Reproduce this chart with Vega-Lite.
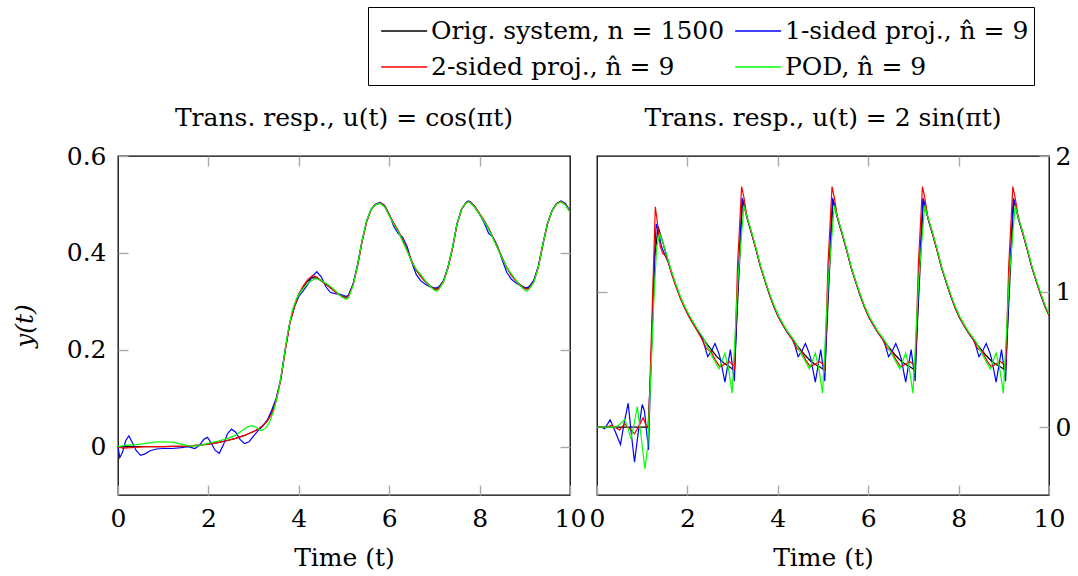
{
"$schema": "https://vega.github.io/schema/vega-lite/v6.json",
"background": "white",
"padding": {"left": 11, "top": 6, "right": 5, "bottom": 3},
"bounds": "flush",
"spacing": 27,
"config": {
  "font": "DejaVu Serif",
  "view": {"stroke": "black", "strokeWidth": 1.3},
  "axis": {"grid": false, "domain": false, "labelFlush": false, "labelOverlap": false, "tickColor": "#a8a8a8", "tickWidth": 1.4, "tickSize": -10, "labelFont": "DejaVu Serif", "labelFontSize": 25, "labelColor": "black", "labelPadding": 21, "titleFont": "DejaVu Serif", "titleFontSize": 25, "titleFontWeight": "normal", "titleColor": "black"},
  "title": {"font": "DejaVu Serif", "fontSize": 25, "fontWeight": "normal", "color": "black", "offset": 13, "anchor": "middle"},
  "legend": {"labelFont": "DejaVu Serif", "labelFontSize": 25, "labelColor": "black", "labelLimit": 600, "strokeColor": "black", "fillColor": "white", "padding": 5, "rowPadding": 4, "columnPadding": 2, "labelOffset": 20, "symbolType": "M-0.6,0H1.95", "symbolSize": 1296, "symbolStrokeWidth": 1.3}
},
"datasets": {
"L": [
{"s":"o","t":0,"y":0},{"s":"o","t":0.5,"y":0},{"s":"o","t":1,"y":0},{"s":"o","t":1.5,"y":0.001},{"s":"o","t":1.8,"y":0.003},{"s":"o","t":2,"y":0.005},{"s":"o","t":2.2,"y":0.008},{"s":"o","t":2.4,"y":0.012},{"s":"o","t":2.6,"y":0.017},{"s":"o","t":2.8,"y":0.023},{"s":"o","t":3,"y":0.031},{"s":"o","t":3.1,"y":0.036},{"s":"o","t":3.2,"y":0.043},{"s":"o","t":3.3,"y":0.053},{"s":"o","t":3.4,"y":0.07},{"s":"o","t":3.5,"y":0.097},{"s":"o","t":3.6,"y":0.14},{"s":"o","t":3.7,"y":0.2},{"s":"o","t":3.8,"y":0.255},{"s":"o","t":3.9,"y":0.288},{"s":"o","t":4,"y":0.315},{"s":"o","t":4.1,"y":0.33},{"s":"o","t":4.2,"y":0.342},{"s":"o","t":4.3,"y":0.349},{"s":"o","t":4.4,"y":0.348},{"s":"o","t":4.5,"y":0.342},{"s":"o","t":4.6,"y":0.335},{"s":"o","t":4.7,"y":0.328},{"s":"o","t":4.8,"y":0.32},{"s":"o","t":4.9,"y":0.313},{"s":"o","t":5,"y":0.309},{"s":"o","t":5.05,"y":0.308},{"s":"o","t":5.1,"y":0.312},{"s":"o","t":5.2,"y":0.335},{"s":"o","t":5.3,"y":0.375},{"s":"o","t":5.4,"y":0.425},{"s":"o","t":5.5,"y":0.465},{"s":"o","t":5.6,"y":0.49},{"s":"o","t":5.7,"y":0.5},{"s":"o","t":5.8,"y":0.503},{"s":"o","t":5.9,"y":0.496},{"s":"o","t":6,"y":0.478},{"s":"o","t":6.1,"y":0.46},{"s":"o","t":6.2,"y":0.445},{"s":"o","t":6.3,"y":0.425},{"s":"o","t":6.4,"y":0.405},{"s":"o","t":6.5,"y":0.382},{"s":"o","t":6.6,"y":0.364},{"s":"o","t":6.7,"y":0.352},{"s":"o","t":6.8,"y":0.341},{"s":"o","t":6.9,"y":0.332},{"s":"o","t":7,"y":0.326},{"s":"o","t":7.05,"y":0.325},{"s":"o","t":7.1,"y":0.328},{"s":"o","t":7.2,"y":0.342},{"s":"o","t":7.3,"y":0.37},{"s":"o","t":7.4,"y":0.41},{"s":"o","t":7.5,"y":0.46},{"s":"o","t":7.6,"y":0.49},{"s":"o","t":7.7,"y":0.503},{"s":"o","t":7.75,"y":0.506},{"s":"o","t":7.8,"y":0.504},{"s":"o","t":7.9,"y":0.494},{"s":"o","t":8,"y":0.48},{"s":"o","t":8.1,"y":0.466},{"s":"o","t":8.2,"y":0.45},{"s":"o","t":8.3,"y":0.43},{"s":"o","t":8.4,"y":0.41},{"s":"o","t":8.5,"y":0.39},{"s":"o","t":8.6,"y":0.37},{"s":"o","t":8.7,"y":0.355},{"s":"o","t":8.8,"y":0.343},{"s":"o","t":8.9,"y":0.334},{"s":"o","t":9,"y":0.327},{"s":"o","t":9.05,"y":0.326},{"s":"o","t":9.1,"y":0.329},{"s":"o","t":9.2,"y":0.342},{"s":"o","t":9.3,"y":0.372},{"s":"o","t":9.4,"y":0.418},{"s":"o","t":9.5,"y":0.46},{"s":"o","t":9.6,"y":0.486},{"s":"o","t":9.7,"y":0.501},{"s":"o","t":9.8,"y":0.506},{"s":"o","t":9.9,"y":0.5},{"s":"o","t":10,"y":0.485},

{"s":"b","t":0,"y":0},{"s":"b","t":0.04,"y":-0.023},{"s":"b","t":0.1,"y":-0.012},{"s":"b","t":0.17,"y":0.012},{"s":"b","t":0.24,"y":0.022},{"s":"b","t":0.32,"y":0.008},{"s":"b","t":0.4,"y":-0.008},{"s":"b","t":0.5,"y":-0.018},{"s":"b","t":0.6,"y":-0.015},{"s":"b","t":0.7,"y":-0.009},{"s":"b","t":0.85,"y":-0.005},{"s":"b","t":1,"y":-0.004},{"s":"b","t":1.2,"y":-0.004},{"s":"b","t":1.4,"y":-0.002},{"s":"b","t":1.55,"y":0},{"s":"b","t":1.7,"y":-0.004},{"s":"b","t":1.8,"y":0.002},{"s":"b","t":1.9,"y":0.015},{"s":"b","t":1.98,"y":0.019},{"s":"b","t":2.06,"y":0.008},{"s":"b","t":2.15,"y":-0.008},{"s":"b","t":2.24,"y":-0.014},{"s":"b","t":2.33,"y":0.003},{"s":"b","t":2.42,"y":0.026},{"s":"b","t":2.51,"y":0.036},{"s":"b","t":2.6,"y":0.03},{"s":"b","t":2.7,"y":0.015},{"s":"b","t":2.8,"y":0.006},{"s":"b","t":2.9,"y":0.01},{"s":"b","t":3,"y":0.022},{"s":"b","t":3.1,"y":0.033},{"s":"b","t":3.2,"y":0.042},{"s":"b","t":3.3,"y":0.054},{"s":"b","t":3.4,"y":0.075},{"s":"b","t":3.5,"y":0.1},{"s":"b","t":3.6,"y":0.138},{"s":"b","t":3.7,"y":0.2},{"s":"b","t":3.8,"y":0.255},{"s":"b","t":3.9,"y":0.288},{"s":"b","t":4,"y":0.31},{"s":"b","t":4.1,"y":0.322},{"s":"b","t":4.2,"y":0.335},{"s":"b","t":4.3,"y":0.352},{"s":"b","t":4.4,"y":0.361},{"s":"b","t":4.5,"y":0.35},{"s":"b","t":4.6,"y":0.33},{"s":"b","t":4.7,"y":0.318},{"s":"b","t":4.8,"y":0.316},{"s":"b","t":4.9,"y":0.315},{"s":"b","t":5,"y":0.312},{"s":"b","t":5.05,"y":0.31},{"s":"b","t":5.1,"y":0.313},{"s":"b","t":5.2,"y":0.335},{"s":"b","t":5.3,"y":0.375},{"s":"b","t":5.4,"y":0.425},{"s":"b","t":5.5,"y":0.465},{"s":"b","t":5.6,"y":0.49},{"s":"b","t":5.7,"y":0.501},{"s":"b","t":5.8,"y":0.504},{"s":"b","t":5.9,"y":0.498},{"s":"b","t":6,"y":0.48},{"s":"b","t":6.1,"y":0.455},{"s":"b","t":6.2,"y":0.44},{"s":"b","t":6.3,"y":0.432},{"s":"b","t":6.4,"y":0.412},{"s":"b","t":6.5,"y":0.38},{"s":"b","t":6.6,"y":0.355},{"s":"b","t":6.7,"y":0.342},{"s":"b","t":6.8,"y":0.335},{"s":"b","t":6.9,"y":0.33},{"s":"b","t":7,"y":0.328},{"s":"b","t":7.05,"y":0.328},{"s":"b","t":7.1,"y":0.33},{"s":"b","t":7.2,"y":0.342},{"s":"b","t":7.3,"y":0.37},{"s":"b","t":7.4,"y":0.41},{"s":"b","t":7.5,"y":0.46},{"s":"b","t":7.6,"y":0.49},{"s":"b","t":7.7,"y":0.504},{"s":"b","t":7.75,"y":0.507},{"s":"b","t":7.8,"y":0.505},{"s":"b","t":7.9,"y":0.495},{"s":"b","t":8,"y":0.48},{"s":"b","t":8.1,"y":0.462},{"s":"b","t":8.2,"y":0.44},{"s":"b","t":8.3,"y":0.432},{"s":"b","t":8.4,"y":0.413},{"s":"b","t":8.5,"y":0.385},{"s":"b","t":8.6,"y":0.36},{"s":"b","t":8.7,"y":0.346},{"s":"b","t":8.8,"y":0.338},{"s":"b","t":8.9,"y":0.332},{"s":"b","t":9,"y":0.329},{"s":"b","t":9.05,"y":0.328},{"s":"b","t":9.1,"y":0.331},{"s":"b","t":9.2,"y":0.344},{"s":"b","t":9.3,"y":0.372},{"s":"b","t":9.4,"y":0.418},{"s":"b","t":9.5,"y":0.46},{"s":"b","t":9.6,"y":0.487},{"s":"b","t":9.7,"y":0.502},{"s":"b","t":9.8,"y":0.507},{"s":"b","t":9.9,"y":0.502},{"s":"b","t":10,"y":0.487},

{"s":"r","t":0,"y":0},{"s":"r","t":0.1,"y":-0.003},{"s":"r","t":0.3,"y":-0.002},{"s":"r","t":0.6,"y":0},{"s":"r","t":1,"y":0},{"s":"r","t":1.5,"y":0.001},{"s":"r","t":1.8,"y":0.003},{"s":"r","t":2,"y":0.005},{"s":"r","t":2.2,"y":0.008},{"s":"r","t":2.4,"y":0.012},{"s":"r","t":2.6,"y":0.017},{"s":"r","t":2.8,"y":0.023},{"s":"r","t":3,"y":0.031},{"s":"r","t":3.1,"y":0.036},{"s":"r","t":3.2,"y":0.043},{"s":"r","t":3.3,"y":0.052},{"s":"r","t":3.4,"y":0.068},{"s":"r","t":3.5,"y":0.094},{"s":"r","t":3.6,"y":0.137},{"s":"r","t":3.7,"y":0.197},{"s":"r","t":3.8,"y":0.253},{"s":"r","t":3.9,"y":0.288},{"s":"r","t":4,"y":0.315},{"s":"r","t":4.1,"y":0.332},{"s":"r","t":4.2,"y":0.345},{"s":"r","t":4.3,"y":0.353},{"s":"r","t":4.4,"y":0.35},{"s":"r","t":4.5,"y":0.343},{"s":"r","t":4.6,"y":0.335},{"s":"r","t":4.7,"y":0.328},{"s":"r","t":4.8,"y":0.32},{"s":"r","t":4.9,"y":0.313},{"s":"r","t":5,"y":0.308},{"s":"r","t":5.05,"y":0.307},{"s":"r","t":5.1,"y":0.311},{"s":"r","t":5.2,"y":0.333},{"s":"r","t":5.3,"y":0.372},{"s":"r","t":5.4,"y":0.422},{"s":"r","t":5.5,"y":0.463},{"s":"r","t":5.6,"y":0.489},{"s":"r","t":5.7,"y":0.5},{"s":"r","t":5.8,"y":0.503},{"s":"r","t":5.9,"y":0.497},{"s":"r","t":6,"y":0.479},{"s":"r","t":6.1,"y":0.462},{"s":"r","t":6.2,"y":0.446},{"s":"r","t":6.3,"y":0.426},{"s":"r","t":6.4,"y":0.405},{"s":"r","t":6.5,"y":0.383},{"s":"r","t":6.6,"y":0.364},{"s":"r","t":6.7,"y":0.351},{"s":"r","t":6.8,"y":0.34},{"s":"r","t":6.9,"y":0.331},{"s":"r","t":7,"y":0.325},{"s":"r","t":7.05,"y":0.324},{"s":"r","t":7.1,"y":0.327},{"s":"r","t":7.2,"y":0.34},{"s":"r","t":7.3,"y":0.368},{"s":"r","t":7.4,"y":0.408},{"s":"r","t":7.5,"y":0.458},{"s":"r","t":7.6,"y":0.489},{"s":"r","t":7.7,"y":0.503},{"s":"r","t":7.75,"y":0.506},{"s":"r","t":7.8,"y":0.504},{"s":"r","t":7.9,"y":0.495},{"s":"r","t":8,"y":0.481},{"s":"r","t":8.1,"y":0.467},{"s":"r","t":8.2,"y":0.451},{"s":"r","t":8.3,"y":0.431},{"s":"r","t":8.4,"y":0.411},{"s":"r","t":8.5,"y":0.39},{"s":"r","t":8.6,"y":0.37},{"s":"r","t":8.7,"y":0.354},{"s":"r","t":8.8,"y":0.342},{"s":"r","t":8.9,"y":0.333},{"s":"r","t":9,"y":0.326},{"s":"r","t":9.05,"y":0.325},{"s":"r","t":9.1,"y":0.328},{"s":"r","t":9.2,"y":0.34},{"s":"r","t":9.3,"y":0.37},{"s":"r","t":9.4,"y":0.416},{"s":"r","t":9.5,"y":0.459},{"s":"r","t":9.6,"y":0.486},{"s":"r","t":9.7,"y":0.501},{"s":"r","t":9.8,"y":0.506},{"s":"r","t":9.9,"y":0.5},{"s":"r","t":10,"y":0.485},

{"s":"g","t":0,"y":0},{"s":"g","t":0.2,"y":0.003},{"s":"g","t":0.4,"y":0.004},{"s":"g","t":0.6,"y":0.006},{"s":"g","t":0.8,"y":0.009},{"s":"g","t":1,"y":0.01},{"s":"g","t":1.2,"y":0.009},{"s":"g","t":1.4,"y":0.005},{"s":"g","t":1.6,"y":0.001},{"s":"g","t":1.8,"y":0.002},{"s":"g","t":2,"y":0.007},{"s":"g","t":2.2,"y":0.011},{"s":"g","t":2.4,"y":0.016},{"s":"g","t":2.6,"y":0.023},{"s":"g","t":2.75,"y":0.033},{"s":"g","t":2.87,"y":0.041},{"s":"g","t":2.97,"y":0.043},{"s":"g","t":3.07,"y":0.039},{"s":"g","t":3.17,"y":0.033},{"s":"g","t":3.27,"y":0.038},{"s":"g","t":3.35,"y":0.05},{"s":"g","t":3.45,"y":0.075},{"s":"g","t":3.55,"y":0.115},{"s":"g","t":3.65,"y":0.17},{"s":"g","t":3.75,"y":0.232},{"s":"g","t":3.85,"y":0.279},{"s":"g","t":3.95,"y":0.306},{"s":"g","t":4.05,"y":0.321},{"s":"g","t":4.15,"y":0.332},{"s":"g","t":4.25,"y":0.341},{"s":"g","t":4.35,"y":0.346},{"s":"g","t":4.45,"y":0.346},{"s":"g","t":4.55,"y":0.34},{"s":"g","t":4.65,"y":0.334},{"s":"g","t":4.75,"y":0.327},{"s":"g","t":4.85,"y":0.318},{"s":"g","t":4.95,"y":0.309},{"s":"g","t":5.05,"y":0.304},{"s":"g","t":5.1,"y":0.307},{"s":"g","t":5.2,"y":0.332},{"s":"g","t":5.3,"y":0.375},{"s":"g","t":5.4,"y":0.426},{"s":"g","t":5.5,"y":0.466},{"s":"g","t":5.6,"y":0.49},{"s":"g","t":5.7,"y":0.5},{"s":"g","t":5.8,"y":0.502},{"s":"g","t":5.9,"y":0.495},{"s":"g","t":6,"y":0.477},{"s":"g","t":6.1,"y":0.459},{"s":"g","t":6.2,"y":0.444},{"s":"g","t":6.3,"y":0.423},{"s":"g","t":6.4,"y":0.403},{"s":"g","t":6.5,"y":0.38},{"s":"g","t":6.6,"y":0.366},{"s":"g","t":6.7,"y":0.355},{"s":"g","t":6.8,"y":0.342},{"s":"g","t":6.9,"y":0.331},{"s":"g","t":7,"y":0.323},{"s":"g","t":7.05,"y":0.321},{"s":"g","t":7.1,"y":0.324},{"s":"g","t":7.2,"y":0.34},{"s":"g","t":7.3,"y":0.37},{"s":"g","t":7.4,"y":0.412},{"s":"g","t":7.5,"y":0.46},{"s":"g","t":7.6,"y":0.49},{"s":"g","t":7.7,"y":0.503},{"s":"g","t":7.75,"y":0.505},{"s":"g","t":7.8,"y":0.503},{"s":"g","t":7.9,"y":0.493},{"s":"g","t":8,"y":0.479},{"s":"g","t":8.1,"y":0.465},{"s":"g","t":8.2,"y":0.449},{"s":"g","t":8.3,"y":0.429},{"s":"g","t":8.4,"y":0.409},{"s":"g","t":8.5,"y":0.389},{"s":"g","t":8.6,"y":0.37},{"s":"g","t":8.7,"y":0.357},{"s":"g","t":8.8,"y":0.344},{"s":"g","t":8.9,"y":0.332},{"s":"g","t":9,"y":0.323},{"s":"g","t":9.05,"y":0.321},{"s":"g","t":9.1,"y":0.325},{"s":"g","t":9.2,"y":0.34},{"s":"g","t":9.3,"y":0.37},{"s":"g","t":9.4,"y":0.418},{"s":"g","t":9.5,"y":0.46},{"s":"g","t":9.6,"y":0.486},{"s":"g","t":9.7,"y":0.501},{"s":"g","t":9.8,"y":0.505},{"s":"g","t":9.9,"y":0.499},{"s":"g","t":10,"y":0.484}
],
"R": [
{"s":"o","t":0,"y":0},{"s":"o","t":1.13,"y":0},{"s":"o","t":1.2,"y":0.5},{"s":"o","t":1.28,"y":1.25},{"s":"o","t":1.35,"y":1.48},{"s":"o","t":1.45,"y":1.37},{"s":"o","t":1.55,"y":1.25},{"s":"o","t":1.65,"y":1.14},{"s":"o","t":1.75,"y":1.04},{"s":"o","t":1.85,"y":0.95},{"s":"o","t":1.95,"y":0.875},{"s":"o","t":2.05,"y":0.81},{"s":"o","t":2.2,"y":0.725},{"s":"o","t":2.35,"y":0.65},{"s":"o","t":2.5,"y":0.585},{"s":"o","t":2.65,"y":0.52},{"s":"o","t":2.8,"y":0.475},{"s":"o","t":2.95,"y":0.44},{"s":"o","t":3.04,"y":0.42},{"s":"o","t":3.13,"y":1.05},{"s":"o","t":3.22,"y":1.68},
{"s":"o","t":3.32,"y":1.54},{"s":"o","t":3.42,"y":1.43},{"s":"o","t":3.52,"y":1.31},{"s":"o","t":3.62,"y":1.18},{"s":"o","t":3.72,"y":1.075},{"s":"o","t":3.82,"y":0.975},{"s":"o","t":3.92,"y":0.885},{"s":"o","t":4.02,"y":0.81},{"s":"o","t":4.12,"y":0.75},{"s":"o","t":4.22,"y":0.695},{"s":"o","t":4.32,"y":0.65},{"s":"o","t":4.42,"y":0.605},{"s":"o","t":4.52,"y":0.565},{"s":"o","t":4.62,"y":0.525},{"s":"o","t":4.72,"y":0.49},{"s":"o","t":4.82,"y":0.465},{"s":"o","t":4.92,"y":0.445},{"s":"o","t":5.04,"y":0.42},{"s":"o","t":5.13,"y":1.05},{"s":"o","t":5.22,"y":1.68},
{"s":"o","t":5.32,"y":1.54},{"s":"o","t":5.42,"y":1.43},{"s":"o","t":5.52,"y":1.31},{"s":"o","t":5.62,"y":1.18},{"s":"o","t":5.72,"y":1.075},{"s":"o","t":5.82,"y":0.975},{"s":"o","t":5.92,"y":0.885},{"s":"o","t":6.02,"y":0.81},{"s":"o","t":6.12,"y":0.75},{"s":"o","t":6.22,"y":0.695},{"s":"o","t":6.32,"y":0.65},{"s":"o","t":6.42,"y":0.605},{"s":"o","t":6.52,"y":0.565},{"s":"o","t":6.62,"y":0.525},{"s":"o","t":6.72,"y":0.49},{"s":"o","t":6.82,"y":0.465},{"s":"o","t":6.92,"y":0.445},{"s":"o","t":7.04,"y":0.42},{"s":"o","t":7.13,"y":1.05},{"s":"o","t":7.22,"y":1.68},
{"s":"o","t":7.32,"y":1.54},{"s":"o","t":7.42,"y":1.43},{"s":"o","t":7.52,"y":1.31},{"s":"o","t":7.62,"y":1.18},{"s":"o","t":7.72,"y":1.075},{"s":"o","t":7.82,"y":0.975},{"s":"o","t":7.92,"y":0.885},{"s":"o","t":8.02,"y":0.81},{"s":"o","t":8.12,"y":0.75},{"s":"o","t":8.22,"y":0.695},{"s":"o","t":8.32,"y":0.65},{"s":"o","t":8.42,"y":0.605},{"s":"o","t":8.52,"y":0.565},{"s":"o","t":8.62,"y":0.525},{"s":"o","t":8.72,"y":0.49},{"s":"o","t":8.82,"y":0.465},{"s":"o","t":8.92,"y":0.445},{"s":"o","t":9.04,"y":0.42},{"s":"o","t":9.13,"y":1.05},{"s":"o","t":9.22,"y":1.68},
{"s":"o","t":9.32,"y":1.54},{"s":"o","t":9.42,"y":1.43},{"s":"o","t":9.52,"y":1.31},{"s":"o","t":9.62,"y":1.18},{"s":"o","t":9.72,"y":1.075},{"s":"o","t":9.82,"y":0.975},{"s":"o","t":9.92,"y":0.885},{"s":"o","t":10,"y":0.825},

{"s":"b","t":0,"y":0},{"s":"b","t":0.1,"y":0},{"s":"b","t":0.17,"y":-0.012},{"s":"b","t":0.29,"y":0.054},{"s":"b","t":0.4,"y":-0.03},{"s":"b","t":0.52,"y":-0.128},{"s":"b","t":0.6,"y":0.03},{"s":"b","t":0.69,"y":0.177},{"s":"b","t":0.76,"y":-0.05},{"s":"b","t":0.83,"y":-0.258},{"s":"b","t":0.92,"y":-0.02},{"s":"b","t":1,"y":0.167},{"s":"b","t":1.05,"y":0.12},{"s":"b","t":1.14,"y":-0.167},{"s":"b","t":1.2,"y":0.55},{"s":"b","t":1.27,"y":1.25},{"s":"b","t":1.31,"y":1.499},{"s":"b","t":1.36,"y":1.45},{"s":"b","t":1.42,"y":1.34},{"s":"b","t":1.5,"y":1.27},{"s":"b","t":1.57,"y":1.22},{"s":"b","t":1.65,"y":1.14},{"s":"b","t":1.75,"y":1.04},{"s":"b","t":1.85,"y":0.95},{"s":"b","t":1.95,"y":0.875},{"s":"b","t":2.05,"y":0.81},{"s":"b","t":2.2,"y":0.725},{"s":"b","t":2.32,"y":0.66},{"s":"b","t":2.38,"y":0.6},{"s":"b","t":2.45,"y":0.52},{"s":"b","t":2.53,"y":0.56},{"s":"b","t":2.61,"y":0.617},{"s":"b","t":2.69,"y":0.55},{"s":"b","t":2.73,"y":0.504},{"s":"b","t":2.83,"y":0.332},{"s":"b","t":2.95,"y":0.572},{"s":"b","t":3.04,"y":0.34},{"s":"b","t":3.12,"y":1.1},{"s":"b","t":3.21,"y":1.69},{"s":"b","t":3.27,"y":1.62},{"s":"b","t":3.34,"y":1.52},
{"s":"b","t":3.42,"y":1.43},{"s":"b","t":3.52,"y":1.31},{"s":"b","t":3.62,"y":1.18},{"s":"b","t":3.72,"y":1.075},{"s":"b","t":3.82,"y":0.975},{"s":"b","t":3.92,"y":0.885},{"s":"b","t":4.02,"y":0.81},{"s":"b","t":4.12,"y":0.75},{"s":"b","t":4.22,"y":0.695},{"s":"b","t":4.32,"y":0.65},{"s":"b","t":4.38,"y":0.6},{"s":"b","t":4.45,"y":0.52},{"s":"b","t":4.53,"y":0.56},{"s":"b","t":4.61,"y":0.617},{"s":"b","t":4.69,"y":0.55},{"s":"b","t":4.73,"y":0.504},{"s":"b","t":4.83,"y":0.332},{"s":"b","t":4.95,"y":0.572},{"s":"b","t":5.04,"y":0.34},{"s":"b","t":5.12,"y":1.1},{"s":"b","t":5.21,"y":1.69},{"s":"b","t":5.27,"y":1.62},{"s":"b","t":5.34,"y":1.52},
{"s":"b","t":5.42,"y":1.43},{"s":"b","t":5.52,"y":1.31},{"s":"b","t":5.62,"y":1.18},{"s":"b","t":5.72,"y":1.075},{"s":"b","t":5.82,"y":0.975},{"s":"b","t":5.92,"y":0.885},{"s":"b","t":6.02,"y":0.81},{"s":"b","t":6.12,"y":0.75},{"s":"b","t":6.22,"y":0.695},{"s":"b","t":6.32,"y":0.65},{"s":"b","t":6.38,"y":0.6},{"s":"b","t":6.45,"y":0.52},{"s":"b","t":6.53,"y":0.56},{"s":"b","t":6.61,"y":0.617},{"s":"b","t":6.69,"y":0.55},{"s":"b","t":6.73,"y":0.504},{"s":"b","t":6.83,"y":0.332},{"s":"b","t":6.95,"y":0.572},{"s":"b","t":7.04,"y":0.34},{"s":"b","t":7.12,"y":1.1},{"s":"b","t":7.21,"y":1.69},{"s":"b","t":7.27,"y":1.62},{"s":"b","t":7.34,"y":1.52},
{"s":"b","t":7.42,"y":1.43},{"s":"b","t":7.52,"y":1.31},{"s":"b","t":7.62,"y":1.18},{"s":"b","t":7.72,"y":1.075},{"s":"b","t":7.82,"y":0.975},{"s":"b","t":7.92,"y":0.885},{"s":"b","t":8.02,"y":0.81},{"s":"b","t":8.12,"y":0.75},{"s":"b","t":8.22,"y":0.695},{"s":"b","t":8.32,"y":0.65},{"s":"b","t":8.38,"y":0.6},{"s":"b","t":8.45,"y":0.52},{"s":"b","t":8.53,"y":0.56},{"s":"b","t":8.61,"y":0.617},{"s":"b","t":8.69,"y":0.55},{"s":"b","t":8.73,"y":0.504},{"s":"b","t":8.83,"y":0.332},{"s":"b","t":8.95,"y":0.572},{"s":"b","t":9.04,"y":0.34},{"s":"b","t":9.12,"y":1.1},{"s":"b","t":9.21,"y":1.69},{"s":"b","t":9.27,"y":1.62},{"s":"b","t":9.34,"y":1.52},
{"s":"b","t":9.42,"y":1.43},{"s":"b","t":9.52,"y":1.31},{"s":"b","t":9.62,"y":1.18},{"s":"b","t":9.72,"y":1.075},{"s":"b","t":9.82,"y":0.975},{"s":"b","t":9.92,"y":0.885},{"s":"b","t":10,"y":0.825},

{"s":"r","t":0,"y":0},{"s":"r","t":0.2,"y":0},{"s":"r","t":0.32,"y":0.013},{"s":"r","t":0.42,"y":-0.005},{"s":"r","t":0.5,"y":-0.02},{"s":"r","t":0.61,"y":0.025},{"s":"r","t":0.72,"y":-0.01},{"s":"r","t":0.83,"y":-0.049},{"s":"r","t":0.93,"y":0.01},{"s":"r","t":1.02,"y":0.069},{"s":"r","t":1.1,"y":0},{"s":"r","t":1.14,"y":-0.01},{"s":"r","t":1.21,"y":0.75},{"s":"r","t":1.29,"y":1.626},{"s":"r","t":1.34,"y":1.5},{"s":"r","t":1.4,"y":1.33},{"s":"r","t":1.46,"y":1.278},{"s":"r","t":1.52,"y":1.265},{"s":"r","t":1.57,"y":1.228},{"s":"r","t":1.65,"y":1.13},{"s":"r","t":1.75,"y":1.035},{"s":"r","t":1.85,"y":0.945},{"s":"r","t":1.95,"y":0.87},{"s":"r","t":2.05,"y":0.805},{"s":"r","t":2.2,"y":0.72},{"s":"r","t":2.32,"y":0.65},{"s":"r","t":2.42,"y":0.58},{"s":"r","t":2.52,"y":0.56},{"s":"r","t":2.62,"y":0.495},{"s":"r","t":2.72,"y":0.445},{"s":"r","t":2.82,"y":0.465},{"s":"r","t":2.92,"y":0.485},{"s":"r","t":3,"y":0.465},{"s":"r","t":3.04,"y":0.42},{"s":"r","t":3.11,"y":1.2},{"s":"r","t":3.2,"y":1.774},{"s":"r","t":3.25,"y":1.695},{"s":"r","t":3.32,"y":1.55},
{"s":"r","t":3.42,"y":1.43},{"s":"r","t":3.52,"y":1.31},{"s":"r","t":3.62,"y":1.18},{"s":"r","t":3.72,"y":1.075},{"s":"r","t":3.82,"y":0.975},{"s":"r","t":3.92,"y":0.885},{"s":"r","t":4.02,"y":0.81},{"s":"r","t":4.12,"y":0.75},{"s":"r","t":4.22,"y":0.695},{"s":"r","t":4.32,"y":0.65},{"s":"r","t":4.42,"y":0.58},{"s":"r","t":4.52,"y":0.56},{"s":"r","t":4.62,"y":0.495},{"s":"r","t":4.72,"y":0.445},{"s":"r","t":4.82,"y":0.465},{"s":"r","t":4.92,"y":0.485},{"s":"r","t":5,"y":0.465},{"s":"r","t":5.04,"y":0.42},{"s":"r","t":5.11,"y":1.2},{"s":"r","t":5.2,"y":1.774},{"s":"r","t":5.25,"y":1.695},{"s":"r","t":5.32,"y":1.55},
{"s":"r","t":5.42,"y":1.43},{"s":"r","t":5.52,"y":1.31},{"s":"r","t":5.62,"y":1.18},{"s":"r","t":5.72,"y":1.075},{"s":"r","t":5.82,"y":0.975},{"s":"r","t":5.92,"y":0.885},{"s":"r","t":6.02,"y":0.81},{"s":"r","t":6.12,"y":0.75},{"s":"r","t":6.22,"y":0.695},{"s":"r","t":6.32,"y":0.65},{"s":"r","t":6.42,"y":0.58},{"s":"r","t":6.52,"y":0.56},{"s":"r","t":6.62,"y":0.495},{"s":"r","t":6.72,"y":0.445},{"s":"r","t":6.82,"y":0.465},{"s":"r","t":6.92,"y":0.485},{"s":"r","t":7,"y":0.465},{"s":"r","t":7.04,"y":0.42},{"s":"r","t":7.11,"y":1.2},{"s":"r","t":7.2,"y":1.774},{"s":"r","t":7.25,"y":1.695},{"s":"r","t":7.32,"y":1.55},
{"s":"r","t":7.42,"y":1.43},{"s":"r","t":7.52,"y":1.31},{"s":"r","t":7.62,"y":1.18},{"s":"r","t":7.72,"y":1.075},{"s":"r","t":7.82,"y":0.975},{"s":"r","t":7.92,"y":0.885},{"s":"r","t":8.02,"y":0.81},{"s":"r","t":8.12,"y":0.75},{"s":"r","t":8.22,"y":0.695},{"s":"r","t":8.32,"y":0.65},{"s":"r","t":8.42,"y":0.58},{"s":"r","t":8.52,"y":0.56},{"s":"r","t":8.62,"y":0.495},{"s":"r","t":8.72,"y":0.445},{"s":"r","t":8.82,"y":0.465},{"s":"r","t":8.92,"y":0.485},{"s":"r","t":9,"y":0.465},{"s":"r","t":9.04,"y":0.42},{"s":"r","t":9.11,"y":1.2},{"s":"r","t":9.2,"y":1.774},{"s":"r","t":9.25,"y":1.695},{"s":"r","t":9.32,"y":1.55},
{"s":"r","t":9.42,"y":1.43},{"s":"r","t":9.52,"y":1.31},{"s":"r","t":9.62,"y":1.18},{"s":"r","t":9.72,"y":1.075},{"s":"r","t":9.82,"y":0.975},{"s":"r","t":9.92,"y":0.885},{"s":"r","t":10,"y":0.825},

{"s":"g","t":0,"y":0},{"s":"g","t":0.4,"y":0},{"s":"g","t":0.5,"y":0.02},{"s":"g","t":0.61,"y":0.054},{"s":"g","t":0.68,"y":0},{"s":"g","t":0.75,"y":-0.086},{"s":"g","t":0.82,"y":0.02},{"s":"g","t":0.89,"y":0.152},{"s":"g","t":0.97,"y":-0.05},{"s":"g","t":1.06,"y":-0.307},{"s":"g","t":1.12,"y":-0.15},{"s":"g","t":1.18,"y":0.3},{"s":"g","t":1.26,"y":0.95},{"s":"g","t":1.32,"y":1.33},{"s":"g","t":1.39,"y":1.425},{"s":"g","t":1.45,"y":1.37},{"s":"g","t":1.55,"y":1.26},{"s":"g","t":1.65,"y":1.15},{"s":"g","t":1.75,"y":1.05},{"s":"g","t":1.85,"y":0.96},{"s":"g","t":1.95,"y":0.885},{"s":"g","t":2.05,"y":0.82},{"s":"g","t":2.2,"y":0.735},{"s":"g","t":2.35,"y":0.66},{"s":"g","t":2.48,"y":0.565},{"s":"g","t":2.59,"y":0.495},{"s":"g","t":2.7,"y":0.43},{"s":"g","t":2.83,"y":0.546},{"s":"g","t":2.91,"y":0.43},{"s":"g","t":2.99,"y":0.251},{"s":"g","t":3.12,"y":1.1},{"s":"g","t":3.25,"y":1.634},{"s":"g","t":3.32,"y":1.55},
{"s":"g","t":3.42,"y":1.44},{"s":"g","t":3.52,"y":1.32},{"s":"g","t":3.62,"y":1.19},{"s":"g","t":3.72,"y":1.085},{"s":"g","t":3.82,"y":0.985},{"s":"g","t":3.92,"y":0.895},{"s":"g","t":4.02,"y":0.82},{"s":"g","t":4.12,"y":0.76},{"s":"g","t":4.22,"y":0.705},{"s":"g","t":4.32,"y":0.66},{"s":"g","t":4.4,"y":0.62},{"s":"g","t":4.48,"y":0.565},{"s":"g","t":4.59,"y":0.495},{"s":"g","t":4.7,"y":0.43},{"s":"g","t":4.83,"y":0.546},{"s":"g","t":4.91,"y":0.43},{"s":"g","t":4.99,"y":0.251},{"s":"g","t":5.12,"y":1.1},{"s":"g","t":5.25,"y":1.634},{"s":"g","t":5.32,"y":1.55},
{"s":"g","t":5.42,"y":1.44},{"s":"g","t":5.52,"y":1.32},{"s":"g","t":5.62,"y":1.19},{"s":"g","t":5.72,"y":1.085},{"s":"g","t":5.82,"y":0.985},{"s":"g","t":5.92,"y":0.895},{"s":"g","t":6.02,"y":0.82},{"s":"g","t":6.12,"y":0.76},{"s":"g","t":6.22,"y":0.705},{"s":"g","t":6.32,"y":0.66},{"s":"g","t":6.4,"y":0.62},{"s":"g","t":6.48,"y":0.565},{"s":"g","t":6.59,"y":0.495},{"s":"g","t":6.7,"y":0.43},{"s":"g","t":6.83,"y":0.546},{"s":"g","t":6.91,"y":0.43},{"s":"g","t":6.99,"y":0.251},{"s":"g","t":7.12,"y":1.1},{"s":"g","t":7.25,"y":1.634},{"s":"g","t":7.32,"y":1.55},
{"s":"g","t":7.42,"y":1.44},{"s":"g","t":7.52,"y":1.32},{"s":"g","t":7.62,"y":1.19},{"s":"g","t":7.72,"y":1.085},{"s":"g","t":7.82,"y":0.985},{"s":"g","t":7.92,"y":0.895},{"s":"g","t":8.02,"y":0.82},{"s":"g","t":8.12,"y":0.76},{"s":"g","t":8.22,"y":0.705},{"s":"g","t":8.32,"y":0.66},{"s":"g","t":8.4,"y":0.62},{"s":"g","t":8.48,"y":0.565},{"s":"g","t":8.59,"y":0.495},{"s":"g","t":8.7,"y":0.43},{"s":"g","t":8.83,"y":0.546},{"s":"g","t":8.91,"y":0.43},{"s":"g","t":8.99,"y":0.251},{"s":"g","t":9.12,"y":1.1},{"s":"g","t":9.25,"y":1.634},{"s":"g","t":9.32,"y":1.55},
{"s":"g","t":9.42,"y":1.44},{"s":"g","t":9.52,"y":1.32},{"s":"g","t":9.62,"y":1.19},{"s":"g","t":9.72,"y":1.085},{"s":"g","t":9.82,"y":0.985},{"s":"g","t":9.92,"y":0.895},{"s":"g","t":10,"y":0.835}
]
},
"hconcat": [
{
  "width": 452, "height": 339,
  "title": {"text": "Trans. resp., u(t) = cos(πt)"},
  "data": {"name": "L"},
  "layer": [
    {
      "mark": {"type": "line", "strokeWidth": 1.2},
      "encoding": {
        "x": {"field": "t", "type": "quantitative", "scale": {"domain": [0, 10], "nice": false, "zero": false}, "axis": {"orient": "bottom", "values": [0, 2, 4, 6, 8, 10], "format": "d", "title": "Time (t)", "titlePadding": 14}},
        "y": {"field": "y", "type": "quantitative", "scale": {"domain": [-0.1, 0.6], "nice": false, "zero": false}, "axis": {"orient": "left", "values": [0, 0.2, 0.4, 0.6], "format": "~g", "labelPadding": 22, "title": "y(t)", "titleFontStyle": "italic", "titlePadding": 29}},
        "color": {"field": "s", "type": "nominal", "sort": ["o", "b", "r", "g"], "scale": {"domain": ["o", "b", "r", "g"], "range": ["#000000", "#0000ff", "#ff0000", "#00ff00"]},
          "legend": {"title": null, "orient": "none", "legendX": 250, "legendY": -149, "columns": 2, "direction": "horizontal",
            "labelExpr": "datum.value == 'o' ? 'Orig. system, n = 1500' : datum.value == 'b' ? '1-sided proj., n\u0302 = 9' : datum.value == 'r' ? '2-sided proj., n\u0302 = 9' : 'POD, n\u0302 = 9'"}}
      }
    },
    {
      "mark": {"type": "line", "strokeOpacity": 0},
      "encoding": {
        "x": {"field": "t", "type": "quantitative", "axis": {"orient": "top", "values": [2, 4, 6, 8], "labels": false, "title": null}},
        "y": {"field": "y", "type": "quantitative", "axis": {"orient": "right", "values": [0, 0.2, 0.4], "labels": false, "title": null}},
        "detail": {"field": "s"}
      }
    }
  ],
  "resolve": {"axis": {"x": "independent", "y": "independent"}}
},
{
  "width": 452, "height": 339,
  "title": {"text": "Trans. resp., u(t) = 2 sin(πt)"},
  "data": {"name": "R"},
  "layer": [
    {
      "mark": {"type": "line", "strokeWidth": 1.2},
      "encoding": {
        "x": {"field": "t", "type": "quantitative", "scale": {"domain": [0, 10], "nice": false, "zero": false}, "axis": {"orient": "bottom", "values": [0, 2, 4, 6, 8, 10], "format": "d", "title": "Time (t)", "titlePadding": 14}},
        "y": {"field": "y", "type": "quantitative", "scale": {"domain": [-0.5, 2], "nice": false, "zero": false}, "axis": {"orient": "right", "values": [0, 1, 2], "format": "d", "labelPadding": 16, "title": null}},
        "color": {"field": "s", "type": "nominal", "sort": ["o", "b", "r", "g"], "scale": {"domain": ["o", "b", "r", "g"], "range": ["#000000", "#0000ff", "#ff0000", "#00ff00"]}}
      }
    },
    {
      "mark": {"type": "line", "strokeOpacity": 0},
      "encoding": {
        "x": {"field": "t", "type": "quantitative", "axis": {"orient": "top", "values": [2, 4, 6, 8], "labels": false, "title": null}},
        "y": {"field": "y", "type": "quantitative", "axis": {"orient": "left", "values": [0, 1], "labels": false, "title": null}},
        "detail": {"field": "s"}
      }
    }
  ],
  "resolve": {"axis": {"x": "independent", "y": "independent"}}
}
]
}
